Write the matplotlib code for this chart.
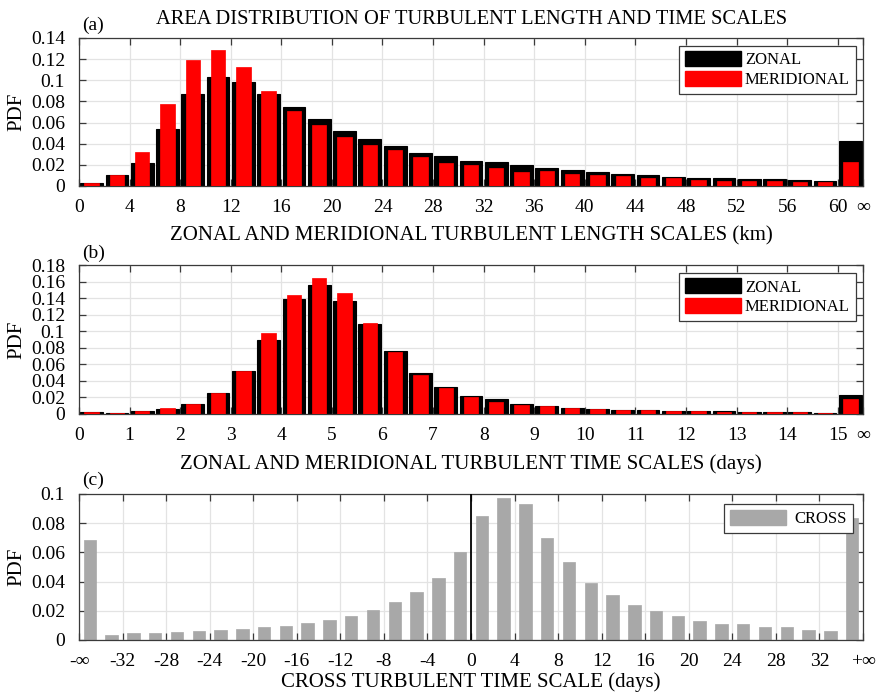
import numpy as np
import matplotlib
matplotlib.use("Agg")
import matplotlib.pyplot as plt
from matplotlib.patches import Patch

plt.rcParams['font.family'] = ['Liberation Serif', 'DejaVu Serif']
plt.rcParams['mathtext.fontset'] = 'stix'

# ---------------- data ----------------
# (a) length scales, bins of 2 km (last bin = infinity)
len_edges_left = np.arange(0, 62, 2)
len_zonal = [0.003, 0.0107, 0.022, 0.0535, 0.0868, 0.1028, 0.0984, 0.0871, 0.0748, 0.0632,
             0.0522, 0.0447, 0.0377, 0.0314, 0.028, 0.0236, 0.023, 0.0195, 0.0173, 0.0148,
             0.0132, 0.011, 0.010, 0.0088, 0.0079, 0.0072, 0.0069, 0.0066, 0.0057, 0.0047,
             0.0425]
len_merid = [0.0028, 0.0107, 0.0324, 0.0777, 0.119, 0.1286, 0.1126, 0.0903, 0.0708, 0.0579,
             0.0459, 0.0384, 0.0336, 0.027, 0.022, 0.0198, 0.017, 0.0135, 0.0138, 0.0116,
             0.0107, 0.0091, 0.0079, 0.0075, 0.006, 0.005, 0.0044, 0.0044, 0.0038, 0.0035,
             0.023]
len_ticks = list(range(0, 61, 4)) + [62]
len_ticklabels = [str(t) for t in range(0, 61, 4)] + ['∞']

# (b) time scales, bins of 0.5 days (last bin = infinity)
time_edges_left = np.arange(0, 15.5, 0.5)
time_zonal = [0.0024, 0.0012, 0.0032, 0.0057, 0.0117, 0.0251, 0.0514, 0.0899, 0.139, 0.156,
              0.137, 0.1085, 0.0765, 0.0498, 0.0328, 0.0219, 0.0182, 0.0121, 0.0101, 0.0073,
              0.0065, 0.0053, 0.0049, 0.004, 0.0036, 0.0032, 0.0028, 0.0024, 0.002, 0.0016,
              0.0227]
time_merid = [0.0024, 0.0012, 0.0032, 0.0077, 0.0117, 0.0251, 0.0514, 0.0984, 0.1433, 0.1644,
              0.1457, 0.1105, 0.0745, 0.0466, 0.0312, 0.0206, 0.0142, 0.0113, 0.0097, 0.0069,
              0.0061, 0.0053, 0.0045, 0.0036, 0.0032, 0.0028, 0.0024, 0.002, 0.002, 0.0016,
              0.0186]
time_ticks = list(range(0, 16)) + [15.5]
time_ticklabels = [str(t) for t in range(0, 16)] + ['∞']

# (c) cross time scale, bins of 2 days (first/last = -inf/+inf)
cross_centers = np.arange(-35, 36, 2)
cross_vals = [0.0685, 0.0037, 0.0046, 0.005, 0.0055, 0.0062, 0.0068, 0.0075, 0.0087, 0.0098,
              0.0114, 0.0139, 0.0167, 0.0208, 0.0263, 0.0326, 0.0427, 0.060, 0.0850, 0.097,
              0.0929, 0.0701, 0.0537, 0.0393, 0.0306, 0.0242, 0.0201, 0.0164, 0.013, 0.011,
              0.0107, 0.0091, 0.0087, 0.0068, 0.0059, 0.0836]
cross_ticks = [-36] + list(range(-32, 33, 4)) + [36]
cross_ticklabels = ['-∞'] + [str(t) for t in range(-32, 33, 4)] + ['+∞']

# ---------------- figure ----------------
W, H = 879, 693
fig = plt.figure(figsize=(W / 100, H / 100), dpi=100)

def ax_rect(top, bottom, left=79, right=863):
    return [left / W, 1 - bottom / H, (right - left) / W, (bottom - top) / H]

SPINE = '#3a3a3a'
GRID = '#e3e3e3'
FS = 14
LFS = 15

def style(ax, xticks, xlabels, yticks, xlim, ylim, xpad=9):
    ax.set_xlim(*xlim)
    ax.set_ylim(*ylim)
    ax.set_xticks(xticks)
    ax.set_xticklabels(xlabels, fontsize=FS)
    ax.set_yticks(yticks)
    ax.set_yticklabels(['%g' % v for v in yticks], fontsize=FS)
    ax.tick_params(direction='in', top=True, right=True, length=5, width=0.9,
                   color=SPINE)
    ax.tick_params(axis='x', pad=xpad)
    ax.tick_params(axis='y', pad=10)
    for s in ax.spines.values():
        s.set_color(SPINE)
        s.set_linewidth(0.9)
    ax.grid(True, color=GRID, linewidth=0.9)
    ax.set_axisbelow(True)
    ax.set_ylabel('PDF', fontsize=LFS, labelpad=3)

legkw = dict(loc='upper right', fontsize=12, handleheight=1.0, frameon=True, fancybox=False,
             edgecolor=SPINE, framealpha=1, borderpad=0.35, labelspacing=0.15)

# ----- (a)
ax1 = fig.add_axes(ax_rect(38, 186))
bw = 2.0
ax1.bar(len_edges_left + bw / 2, len_zonal, width=bw * 0.9, color='black',
        edgecolor='black', linewidth=0.8, zorder=2)
ax1.bar(len_edges_left + bw / 2, len_merid, width=bw * 0.57, color='#ff0000',
        edgecolor='#ff0000', linewidth=0.5, zorder=3)
style(ax1, len_ticks, len_ticklabels, np.round(np.arange(0, 0.141, 0.02), 2), (0, 62), (0, 0.14))
ax1.set_xlabel('ZONAL AND MERIDIONAL TURBULENT LENGTH SCALES (km)', fontsize=LFS, labelpad=8)
handles = [Patch(facecolor='black', edgecolor='black'), Patch(facecolor='#ff0000', edgecolor='#ff0000')]
leg1 = ax1.legend(handles, ['ZONAL', 'MERIDIONAL'], handlelength=3.4, handletextpad=0.2,
                  borderaxespad=0.45, **legkw)
leg1.get_frame().set_linewidth(0.9)

# ----- (b)
ax2 = fig.add_axes(ax_rect(265, 414))
bw = 0.5
ax2.bar(time_edges_left + bw / 2, time_zonal, width=bw * 0.9, color='black',
        edgecolor='black', linewidth=0.8, zorder=2)
ax2.bar(time_edges_left + bw / 2, time_merid, width=bw * 0.57, color='#ff0000',
        edgecolor='#ff0000', linewidth=0.5, zorder=3)
style(ax2, time_ticks, time_ticklabels, np.round(np.arange(0, 0.181, 0.02), 2), (0, 15.5), (0, 0.18))
ax2.set_xlabel('ZONAL AND MERIDIONAL TURBULENT TIME SCALES (days)', fontsize=LFS, labelpad=8)
leg2 = ax2.legend(handles, ['ZONAL', 'MERIDIONAL'], handlelength=3.4, handletextpad=0.2,
                  borderaxespad=0.45, **legkw)
leg2.get_frame().set_linewidth(0.9)

# ----- (c)
ax3 = fig.add_axes(ax_rect(494, 640))
ax3.bar(cross_centers, cross_vals, width=1.15, color='#a8a8a8', edgecolor='#a8a8a8',
        linewidth=0.5, zorder=2)
ax3.axvline(0, color='black', linewidth=1.3, zorder=4)
style(ax3, cross_ticks, cross_ticklabels, np.round(np.arange(0, 0.101, 0.02), 2), (-36, 36), (0, 0.1),
      xpad=9)
ax3.set_xlabel('CROSS TURBULENT TIME SCALE (days)', fontsize=LFS, labelpad=2)
leg3 = ax3.legend([Patch(facecolor='#a8a8a8', edgecolor='#a8a8a8')], ['CROSS'],
                  handlelength=3.4, handletextpad=0.5, borderaxespad=0.6, **legkw)
leg3.get_frame().set_linewidth(0.9)

# titles and panel labels
fig.text(472 / W, 1 - 20 / H, 'AREA DISTRIBUTION OF TURBULENT LENGTH AND TIME SCALES',
         ha='center', va='center', fontsize=14.8)
fig.text(82 / W, 1 - 25 / H, '(a)', ha='left', va='center', fontsize=14)
fig.text(82 / W, 1 - 253 / H, '(b)', ha='left', va='center', fontsize=14)
fig.text(82 / W, 1 - 480 / H, '(c)', ha='left', va='center', fontsize=14)

fig.savefig('out.png', dpi=100)
